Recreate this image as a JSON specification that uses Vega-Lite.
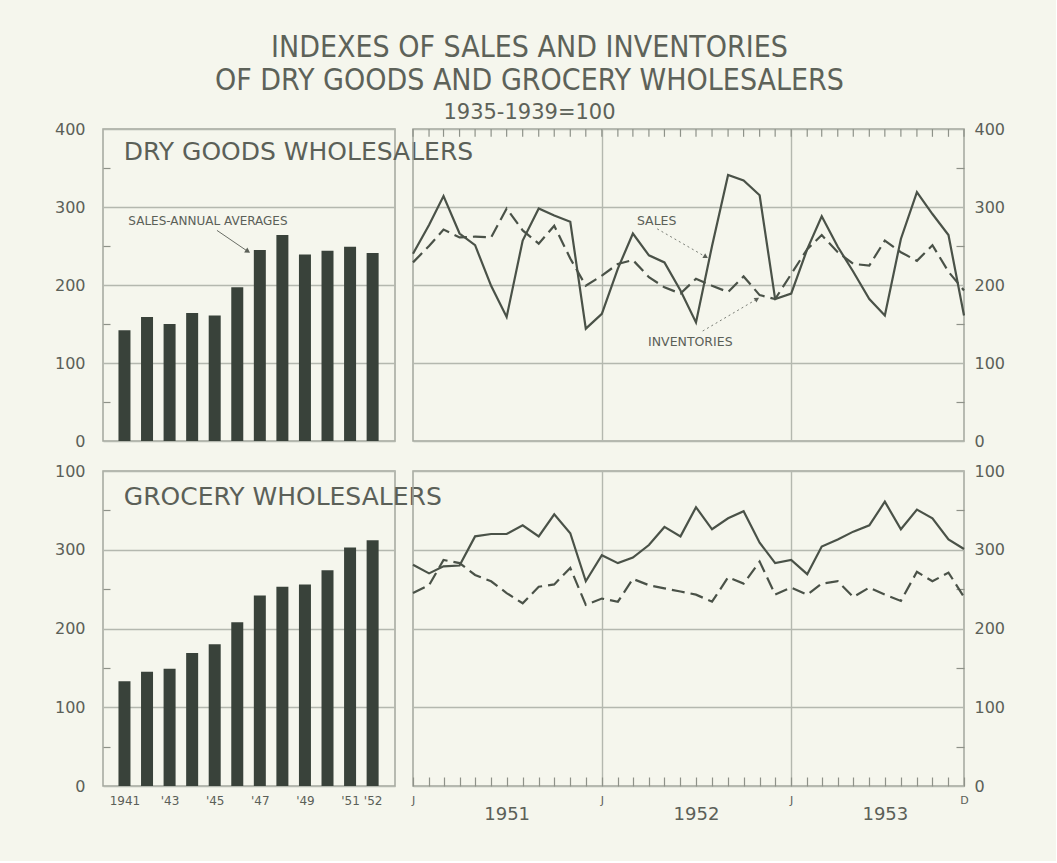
{
  "$schema": "https://vega.github.io/schema/vega-lite/v6.json",
  "background": "#f5f6ed",
  "padding": {"left": 53, "top": 33, "right": 50, "bottom": 37},
  "title": {
    "text": ["INDEXES OF SALES AND INVENTORIES", "OF DRY GOODS AND GROCERY WHOLESALERS"],
    "subtitle": "1935-1939=100",
    "font": "DejaVu Sans Condensed, Liberation Sans Narrow, DejaVu Sans",
    "fontSize": 30, "fontWeight": "normal", "lineHeight": 33, "color": "#5d6259",
    "subtitleFont": "DejaVu Sans", "subtitleFontSize": 21, "subtitleColor": "#5d6259", "subtitlePadding": 6,
    "anchor": "middle", "offset": -3
  },
  "config": {
    "view": {"stroke": "#a2a69d", "strokeWidth": 1.5},
    "axis": {"labelFont": "DejaVu Sans", "labelColor": "#5b6058", "domain": false, "gridColor": "#b4b8af", "gridWidth": 1.4, "tickColor": "#8e9289", "tickWidth": 1.2},
    "text": {"font": "DejaVu Sans", "fill": "#5b6058"}
  },
  "datasets": {
    "annual": [
      {"year": 1941, "drySales": 142, "grocerySales": 133},
      {"year": 1942, "drySales": 159, "grocerySales": 145},
      {"year": 1943, "drySales": 150, "grocerySales": 149},
      {"year": 1944, "drySales": 164, "grocerySales": 169},
      {"year": 1945, "drySales": 161, "grocerySales": 180},
      {"year": 1946, "drySales": 197, "grocerySales": 208},
      {"year": 1947, "drySales": 245, "grocerySales": 242},
      {"year": 1948, "drySales": 264, "grocerySales": 253},
      {"year": 1949, "drySales": 239, "grocerySales": 256},
      {"year": 1950, "drySales": 244, "grocerySales": 274},
      {"year": 1951, "drySales": 249, "grocerySales": 303},
      {"year": 1952, "drySales": 241, "grocerySales": 312}
    ],
    "monthly": [
      {"date": "1951-01-01", "drySales": 240, "dryInventories": 229, "grocerySales": 281, "groceryInventories": 245},
      {"date": "1951-02-01", "drySales": 277, "dryInventories": 250, "grocerySales": 270, "groceryInventories": 255},
      {"date": "1951-03-01", "drySales": 314, "dryInventories": 271, "grocerySales": 279, "groceryInventories": 287},
      {"date": "1951-04-01", "drySales": 266, "dryInventories": 261, "grocerySales": 280, "groceryInventories": 283},
      {"date": "1951-05-01", "drySales": 251, "dryInventories": 262, "grocerySales": 317, "groceryInventories": 268},
      {"date": "1951-06-01", "drySales": 199, "dryInventories": 261, "grocerySales": 320, "groceryInventories": 260},
      {"date": "1951-07-01", "drySales": 159, "dryInventories": 298, "grocerySales": 320, "groceryInventories": 245},
      {"date": "1951-08-01", "drySales": 257, "dryInventories": 270, "grocerySales": 331, "groceryInventories": 232},
      {"date": "1951-09-01", "drySales": 298, "dryInventories": 253, "grocerySales": 317, "groceryInventories": 253},
      {"date": "1951-10-01", "drySales": 289, "dryInventories": 276, "grocerySales": 345, "groceryInventories": 256},
      {"date": "1951-11-01", "drySales": 281, "dryInventories": 234, "grocerySales": 321, "groceryInventories": 277},
      {"date": "1951-12-01", "drySales": 144, "dryInventories": 199, "grocerySales": 260, "groceryInventories": 230},
      {"date": "1952-01-01", "drySales": 163, "dryInventories": 212, "grocerySales": 293, "groceryInventories": 238},
      {"date": "1952-02-01", "drySales": 221, "dryInventories": 227, "grocerySales": 283, "groceryInventories": 234},
      {"date": "1952-03-01", "drySales": 266, "dryInventories": 232, "grocerySales": 290, "groceryInventories": 263},
      {"date": "1952-04-01", "drySales": 238, "dryInventories": 210, "grocerySales": 306, "groceryInventories": 255},
      {"date": "1952-05-01", "drySales": 229, "dryInventories": 197, "grocerySales": 329, "groceryInventories": 251},
      {"date": "1952-06-01", "drySales": 193, "dryInventories": 189, "grocerySales": 317, "groceryInventories": 247},
      {"date": "1952-07-01", "drySales": 152, "dryInventories": 208, "grocerySales": 354, "groceryInventories": 243},
      {"date": "1952-08-01", "drySales": 250, "dryInventories": 199, "grocerySales": 326, "groceryInventories": 234},
      {"date": "1952-09-01", "drySales": 341, "dryInventories": 191, "grocerySales": 340, "groceryInventories": 265},
      {"date": "1952-10-01", "drySales": 334, "dryInventories": 211, "grocerySales": 349, "groceryInventories": 257},
      {"date": "1952-11-01", "drySales": 315, "dryInventories": 187, "grocerySales": 309, "groceryInventories": 285},
      {"date": "1952-12-01", "drySales": 182, "dryInventories": 182, "grocerySales": 283, "groceryInventories": 243},
      {"date": "1953-01-01", "drySales": 189, "dryInventories": 214, "grocerySales": 287, "groceryInventories": 252},
      {"date": "1953-02-01", "drySales": 246, "dryInventories": 246, "grocerySales": 269, "groceryInventories": 243},
      {"date": "1953-03-01", "drySales": 288, "dryInventories": 264, "grocerySales": 304, "groceryInventories": 257},
      {"date": "1953-04-01", "drySales": 249, "dryInventories": 242, "grocerySales": 313, "groceryInventories": 260},
      {"date": "1953-05-01", "drySales": 217, "dryInventories": 227, "grocerySales": 323, "groceryInventories": 240},
      {"date": "1953-06-01", "drySales": 182, "dryInventories": 225, "grocerySales": 331, "groceryInventories": 252},
      {"date": "1953-07-01", "drySales": 161, "dryInventories": 257, "grocerySales": 361, "groceryInventories": 243},
      {"date": "1953-08-01", "drySales": 259, "dryInventories": 242, "grocerySales": 326, "groceryInventories": 235},
      {"date": "1953-09-01", "drySales": 319, "dryInventories": 231, "grocerySales": 351, "groceryInventories": 272},
      {"date": "1953-10-01", "drySales": 291, "dryInventories": 251, "grocerySales": 340, "groceryInventories": 260},
      {"date": "1953-11-01", "drySales": 264, "dryInventories": 217, "grocerySales": 313, "groceryInventories": 271},
      {"date": "1953-12-01", "drySales": 161, "dryInventories": 193, "grocerySales": 301, "groceryInventories": 240}
    ]
  },
  "spacing": 12,
  "vconcat": [
    {
      "bounds": "flush",
      "spacing": 18,
      "hconcat": [
        {
          "width": 292, "height": 312,
          "data": {"name": "annual"},
          "resolve": {"axis": {"x": "independent", "y": "independent"}},
          "layer": [
            {
              "mark": {"type": "bar", "size": 12, "color": "#39423a"},
              "encoding": {
                "x": {"field": "year", "type": "quantitative", "scale": {"domain": [1940.27, 1952.77], "nice": false, "zero": false}, "axis": null},
                "y": {"field": "drySales", "type": "quantitative", "scale": {"domain": [0, 400], "nice": false},
                  "axis": {"orient": "left", "title": null, "values": [0, 50, 100, 150, 200, 250, 300, 350, 400], "labelExpr": "datum.value % 100 === 0 ? datum.label : ''", "labelFontSize": 16, "labelPadding": 25, "ticks": true, "tickSize": -7, "tickOpacity": {"condition": {"test": "datum.value % 100 === 50", "value": 1}, "value": 0}, "grid": true, "gridOpacity": {"condition": {"test": "datum.value % 100 === 0", "value": 1}, "value": 0}}}
              }
            },
            {
              "data": {"values": [{"label": "DRY GOODS WHOLESALERS", "year": 1940.97, "value": 371}]},
              "mark": {"type": "text", "align": "left", "baseline": "middle", "fontSize": 25},
              "encoding": {"x": {"field": "year", "type": "quantitative", "axis": null}, "y": {"field": "value", "type": "quantitative", "axis": null}, "text": {"field": "label"}}
            },
            {
              "data": {"values": [{"label": "SALES-ANNUAL AVERAGES", "year": 1944.7, "value": 282}]},
              "mark": {"type": "text", "align": "center", "baseline": "middle", "fontSize": 12},
              "encoding": {"x": {"field": "year", "type": "quantitative", "axis": null}, "y": {"field": "value", "type": "quantitative", "axis": null}, "text": {"field": "label"}}
            },
            {
              "data": {"values": [{"year": 1945.1, "value": 270, "year2": 1946.47, "value2": 243}]},
              "mark": {"type": "rule", "color": "#6a6e66", "strokeWidth": 1},
              "encoding": {"x": {"field": "year", "type": "quantitative", "axis": null}, "x2": {"field": "year2"}, "y": {"field": "value", "type": "quantitative", "axis": null}, "y2": {"field": "value2"}}
            },
            {
              "data": {"values": [{"year": 1946.47, "value": 243, "angle": 33}]},
              "mark": {"type": "point", "shape": "triangle-right", "filled": true, "size": 35, "color": "#5b6058", "opacity": 1},
              "encoding": {"x": {"field": "year", "type": "quantitative", "axis": null}, "y": {"field": "value", "type": "quantitative", "axis": null}, "angle": {"field": "angle", "type": "quantitative", "scale": null}}
            }
          ]
        },
        {
          "width": 551, "height": 312,
          "data": {"name": "monthly"},
          "resolve": {"axis": {"x": "independent", "y": "independent"}},
          "layer": [
            {
              "mark": {"type": "line", "color": "#4a5248", "strokeWidth": 2.2},
              "encoding": {
                "x": {"field": "date", "type": "temporal", "scale": {"type": "utc", "domain": [{"year": 1951, "month": 1, "date": 1, "utc": true}, {"year": 1953, "month": 12, "date": 1, "utc": true}]},
                  "axis": {"orient": "top", "title": null, "tickCount": {"interval": "month", "step": 1}, "ticks": false, "labels": false, "grid": true, "gridOpacity": {"condition": {"test": "utcmonth(datum.value) === 0 && utcyear(datum.value) > 1951", "value": 1}, "value": 0}}},
                "y": {"field": "drySales", "type": "quantitative", "scale": {"domain": [0, 400], "nice": false},
                  "axis": {"orient": "right", "title": null, "values": [0, 50, 100, 150, 200, 250, 300, 350, 400], "labelExpr": "datum.value % 100 === 0 ? datum.label : ''", "labelFontSize": 16, "labelPadding": 18, "ticks": true, "tickSize": -8, "tickOpacity": {"condition": {"test": "datum.value % 100 === 50", "value": 1}, "value": 0}, "grid": true, "gridOpacity": {"condition": {"test": "datum.value % 100 === 0", "value": 1}, "value": 0}}}
              }
            },
            {
              "mark": {"type": "rule", "color": "#8e9289", "strokeWidth": 1.2},
              "encoding": {"x": {"field": "date", "type": "temporal", "axis": null}, "y": {"datum": 400, "type": "quantitative", "axis": null}, "y2": {"datum": 390}}
            },
            {
              "mark": {"type": "line", "color": "#4a5248", "strokeWidth": 2.2, "strokeDash": [13, 6]},
              "encoding": {"x": {"field": "date", "type": "temporal", "axis": null}, "y": {"field": "dryInventories", "type": "quantitative", "axis": null}}
            },
            {
              "data": {"values": [{"label": "SALES", "date": "1952-04-16", "value": 282}, {"label": "INVENTORIES", "date": "1952-06-20", "value": 127}]},
              "mark": {"type": "text", "align": "center", "baseline": "middle", "fontSize": 12.5},
              "encoding": {"x": {"field": "date", "type": "temporal", "axis": null}, "y": {"field": "value", "type": "quantitative", "axis": null}, "text": {"field": "label"}}
            },
            {
              "data": {"values": [{"date": "1952-04-17", "value": 272, "date2": "1952-07-20", "value2": 236}, {"date": "1952-07-14", "value": 141, "date2": "1952-10-27", "value2": 182}]},
              "mark": {"type": "rule", "color": "#7a7e76", "strokeWidth": 1, "strokeDash": [2, 3]},
              "encoding": {"x": {"field": "date", "type": "temporal", "axis": null}, "x2": {"field": "date2"}, "y": {"field": "value", "type": "quantitative", "axis": null}, "y2": {"field": "value2"}}
            },
            {
              "data": {"values": [{"date": "1952-07-20", "value": 236, "angle": 30}, {"date": "1952-10-27", "value": 182, "angle": -31}]},
              "mark": {"type": "point", "shape": "triangle-right", "filled": true, "size": 30, "color": "#5b6058", "opacity": 1},
              "encoding": {"x": {"field": "date", "type": "temporal", "axis": null}, "y": {"field": "value", "type": "quantitative", "axis": null}, "angle": {"field": "angle", "type": "quantitative", "scale": null}}
            }
          ]
        }
      ]
    },
    {
      "bounds": "flush",
      "spacing": 18,
      "hconcat": [
        {
          "width": 292, "height": 315,
          "data": {"name": "annual"},
          "resolve": {"axis": {"x": "independent", "y": "independent"}},
          "layer": [
            {
              "mark": {"type": "bar", "size": 12, "color": "#39423a"},
              "encoding": {
                "x": {"field": "year", "type": "quantitative", "scale": {"domain": [1940.27, 1952.77], "nice": false, "zero": false},
                  "axis": {"orient": "bottom", "title": null, "values": [1941, 1943, 1945, 1947, 1949, 1951, 1952], "labelExpr": "datum.value === 1941 ? '1941' : \"'\" + substring(toString(datum.value), 2)", "labelFontSize": 12, "labelPadding": 9, "ticks": false, "grid": false, "labelFlush": false, "labelOverlap": false}},
                "y": {"field": "grocerySales", "type": "quantitative", "scale": {"domain": [0, 400], "nice": false},
                  "axis": {"orient": "left", "title": null, "values": [0, 50, 100, 150, 200, 250, 300, 350, 400], "labelExpr": "datum.value === 400 ? '100' : (datum.value % 100 === 0 ? datum.label : '')", "labelFontSize": 16, "labelPadding": 25, "ticks": true, "tickSize": -7, "tickOpacity": {"condition": {"test": "datum.value % 100 === 50", "value": 1}, "value": 0}, "grid": true, "gridOpacity": {"condition": {"test": "datum.value % 100 === 0", "value": 1}, "value": 0}}}
              }
            },
            {
              "data": {"values": [{"label": "GROCERY WHOLESALERS", "year": 1940.97, "value": 367}]},
              "mark": {"type": "text", "align": "left", "baseline": "middle", "fontSize": 25},
              "encoding": {"x": {"field": "year", "type": "quantitative", "axis": null}, "y": {"field": "value", "type": "quantitative", "axis": null}, "text": {"field": "label"}}
            }
          ]
        },
        {
          "width": 551, "height": 315,
          "data": {"name": "monthly"},
          "resolve": {"axis": {"x": "independent", "y": "independent"}},
          "layer": [
            {
              "mark": {"type": "line", "color": "#4a5248", "strokeWidth": 2.2},
              "encoding": {
                "x": {"field": "date", "type": "temporal", "scale": {"type": "utc", "domain": [{"year": 1951, "month": 1, "date": 1, "utc": true}, {"year": 1953, "month": 12, "date": 1, "utc": true}]},
                  "axis": {"orient": "bottom", "title": null, "tickCount": {"interval": "month", "step": 1}, "ticks": true, "tickSize": -9, "labelExpr": "utcmonth(datum.value) === 0 ? 'J' : ((utcmonth(datum.value) === 11 && utcyear(datum.value) === 1953) ? 'D' : '')", "labelFontSize": 11, "labelPadding": 17, "labelOverlap": false, "labelFlush": false, "grid": true, "gridOpacity": {"condition": {"test": "utcmonth(datum.value) === 0 && utcyear(datum.value) > 1951", "value": 1}, "value": 0}}},
                "y": {"field": "grocerySales", "type": "quantitative", "scale": {"domain": [0, 400], "nice": false},
                  "axis": {"orient": "right", "title": null, "values": [0, 50, 100, 150, 200, 250, 300, 350, 400], "labelExpr": "datum.value === 400 ? '100' : (datum.value % 100 === 0 ? datum.label : '')", "labelFontSize": 16, "labelPadding": 18, "ticks": true, "tickSize": -8, "tickOpacity": {"condition": {"test": "datum.value % 100 === 50", "value": 1}, "value": 0}, "grid": true, "gridOpacity": {"condition": {"test": "datum.value % 100 === 0", "value": 1}, "value": 0}}}
              }
            },
            {
              "mark": {"type": "line", "color": "#4a5248", "strokeWidth": 2.2, "strokeDash": [13, 6]},
              "encoding": {
                "x": {"field": "date", "type": "temporal",
                  "axis": {"orient": "bottom", "title": null, "values": [{"year": 1951, "month": 7, "date": 1, "utc": true}, {"year": 1952, "month": 7, "date": 1, "utc": true}, {"year": 1953, "month": 7, "date": 1, "utc": true}], "labelExpr": "utcFormat(datum.value, '%Y')", "labelFontSize": 18, "labelPadding": 19, "ticks": false, "grid": false, "labelFlush": false}},
                "y": {"field": "groceryInventories", "type": "quantitative", "axis": null}
              }
            }
          ]
        }
      ]
    }
  ]
}
